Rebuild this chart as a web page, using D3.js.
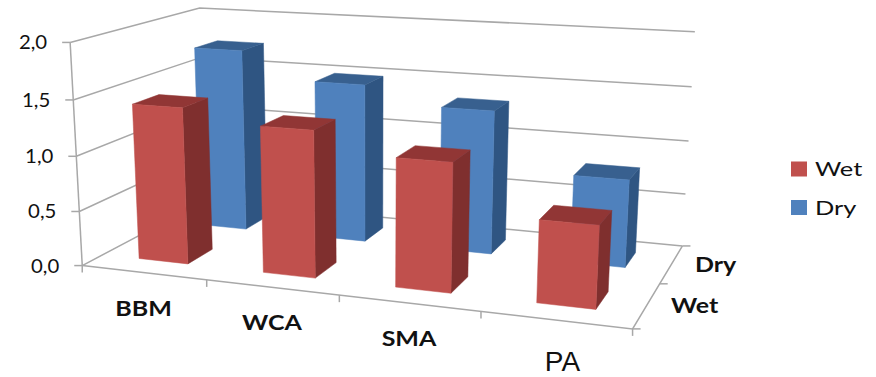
<!DOCTYPE html>
<html>
<head>
<meta charset="utf-8">
<style>
  html, body { margin: 0; padding: 0; background: #fff; }
  svg { display: block; }
  text { fill: #111; }
</style>
<script src="https://cdn.jsdelivr.net/npm/d3@7/dist/d3.min.js"></script>
</head>
<body>
<svg id="chart" width="876" height="377"></svg>
<script>
// Chart data
const categories = ["BBM", "WCA", "SMA", "PA"];
const seriesNames = ["Wet", "Dry"];
const wetValues = [1.42, 1.31, 1.13, 0.71];
const dryValues = [1.74, 1.49, 1.33, 0.80];
const valueTicks = [0, 0.5, 1, 1.5, 2];

const palette = {
  Wet: { front: "#c0504d", side: "#7f2f2e", top: "#913635" },
  Dry: { front: "#4f81bd", side: "#2f5582", top: "#38608f" }
};
const gridColor = "#a8a8a8";

// Scales for the three chart axes, each normalised to the unit box
const xScale = d3.scaleLinear().domain([0, categories.length]).range([0, 1]);
const yScale = d3.scaleLinear().domain([0, 2]).range([0, 1]);
const zScale = d3.scaleLinear().domain([0, seriesNames.length]).range([0, 1]);

// Camera calibration: where points of the unit box land on the page
const calibration = [
  [[0, 0, 0], [83, 266]], [[0, 1, 0], [69.5, 42]],
  [[0, 0, 1], [205, 200]], [[0, 1, 1], [200, 8]],
  [[1, 0, 1], [682, 246]], [[1, 1, 1], [695, 32]],
  [[1, 0, 0], [632, 327]],
  [[0.25, 0, 0], [206.5, 280]], [[0.5, 0, 0], [339, 296]], [[0.75, 0, 0], [480, 313]],
  [[1, 0, 0.5], [662, 283]],
  [[0, 0.5, 0], [77, 156]], [[1, 0.5, 1], [688, 141.5]]
];

// Least-squares fit of a projective camera (11 unknowns)
function fitCamera(points) {
  const n = 11;
  const A = d3.range(n).map(() => new Array(n + 1).fill(0));
  const addRow = (row, rhs) => {
    for (let i = 0; i < n; i++) {
      for (let j = 0; j < n; j++) A[i][j] += row[i] * row[j];
      A[i][n] += row[i] * rhs;
    }
  };
  points.forEach(([[X, Y, Z], [sx, sy]]) => {
    addRow([X, Y, Z, 1, 0, 0, 0, 0, -sx * X, -sx * Y, -sx * Z], sx);
    addRow([0, 0, 0, 0, X, Y, Z, 1, -sy * X, -sy * Y, -sy * Z], sy);
  });
  for (let c = 0; c < n; c++) {
    let pivot = c;
    for (let r = c + 1; r < n; r++) if (Math.abs(A[r][c]) > Math.abs(A[pivot][c])) pivot = r;
    [A[c], A[pivot]] = [A[pivot], A[c]];
    for (let r = 0; r < n; r++) {
      if (r === c) continue;
      const f = A[r][c] / A[c][c];
      for (let k = c; k <= n; k++) A[r][k] -= f * A[c][k];
    }
  }
  return A.map((row, i) => row[n] / row[i]);
}

const cam = fitCamera(calibration);

// Project chart coordinates (category position, value, depth position) to the page
function project(cat, value, depth) {
  const X = xScale(cat), Y = yScale(value), Z = zScale(depth);
  const w = cam[8] * X + cam[9] * Y + cam[10] * Z + 1;
  return [
    (cam[0] * X + cam[1] * Y + cam[2] * Z + cam[3]) / w,
    (cam[4] * X + cam[5] * Y + cam[6] * Z + cam[7]) / w
  ];
}

const svg = d3.select("#chart");
const line = d3.line();
const catMax = categories.length, depthMax = seriesNames.length;
const decimalComma = d3.formatLocale({ decimal: ",", thousands: ".", grouping: [3], currency: ["", ""] }).format(".1f");

// Walls: value gridlines run along the left wall and then the back wall
const walls = svg.append("g").attr("fill", "none").attr("stroke", gridColor).attr("stroke-width", 1.5);
walls.selectAll("path.grid").data(valueTicks).join("path")
  .attr("class", "grid")
  .attr("d", v => line([project(0, v, 0), project(0, v, depthMax), project(catMax, v, depthMax)]));

// Value axis with outward tick marks
walls.append("path").attr("d", line([project(0, 0, 0), project(0, 2, 0)]));
walls.selectAll("path.vtick").data(valueTicks).join("path")
  .attr("class", "vtick")
  .attr("d", v => { const p = project(0, v, 0); return line([p, [p[0] - 8, p[1]]]); });

// Floor edges and their tick marks
walls.append("path").attr("d", line([project(0, 0, 0), project(catMax, 0, 0), project(catMax, 0, depthMax)]));
walls.selectAll("path.ctick").data(d3.range(catMax + 1)).join("path")
  .attr("class", "ctick")
  .attr("d", i => { const p = project(i, 0, 0); return line([p, [p[0], p[1] + 7]]); });
walls.selectAll("path.dtick").data(d3.range(depthMax + 1)).join("path")
  .attr("class", "dtick")
  .attr("d", i => { const p = project(catMax, 0, i); return line([p, [p[0] + 8, p[1]]]); });

// Bars: 150% gaps in both directions, painted far row first, left to right
const gapShare = 0.3;
const bars = [];
[["Dry", dryValues, 1], ["Wet", wetValues, 0]].forEach(([name, values, row]) => {
  values.forEach((value, i) => bars.push({ name, value, i, row }));
});

const barGroups = svg.append("g").selectAll("g").data(bars).join("g");
barGroups.each(function (d) {
  const x0 = d.i + gapShare, x1 = d.i + 1 - gapShare;
  const z0 = d.row + gapShare, z1 = d.row + 1 - gapShare;
  const faces = [
    { kind: "side", pts: [[x1, 0, z0], [x1, 0, z1], [x1, d.value, z1], [x1, d.value, z0]] },
    { kind: "top", pts: [[x0, d.value, z0], [x1, d.value, z0], [x1, d.value, z1], [x0, d.value, z1]] },
    { kind: "front", pts: [[x0, 0, z0], [x1, 0, z0], [x1, d.value, z0], [x0, d.value, z0]] }
  ];
  d3.select(this).selectAll("path").data(faces).join("path")
    .attr("d", f => line(f.pts.map(p => project(...p))) + "Z")
    .attr("fill", f => palette[d.name][f.kind])
    .attr("stroke", f => palette[d.name][f.kind])
    .attr("stroke-width", 0.5);
});

// Places a label and widens its glyphs horizontally
const placed = (x, y, widen) => `translate(${x},${y}) scale(${widen},1)`;

// Value labels
svg.append("g").selectAll("text").data(valueTicks).join("text")
  .attr("transform", v => { const p = project(0, v, 0); return placed(p[0] - 23, p[1] + 7, 1.1); })
  .attr("text-anchor", "end")
  .attr("font-family", "Lato, sans-serif")
  .attr("font-size", 18.5)
  .text(decimalComma);

// Category labels; the last one is set in a larger plain face
svg.append("g").selectAll("text").data(categories).join("text")
  .attr("transform", (c, i) => {
    const p = project(i + 0.5, 0, 0);
    return c === "PA" ? placed(p[0] + 7, 371, 1) : placed(p[0], p[1] + 43, 1.25);
  })
  .attr("text-anchor", "middle")
  .attr("font-family", c => c === "PA" ? "'Liberation Sans', sans-serif" : "Lato, sans-serif")
  .attr("font-weight", c => c === "PA" ? 400 : 700)
  .attr("font-size", c => c === "PA" ? 28 : 20)
  .text(c => c);

// Depth labels
svg.append("g").selectAll("text").data(seriesNames).join("text")
  .attr("transform", (s, i) => {
    const p = project(catMax, 0, i + 0.5);
    return placed(p[0] + (i ? 44 : 48), p[1] + 8, 1.25);
  })
  .attr("text-anchor", "middle")
  .attr("font-family", "Lato, sans-serif")
  .attr("font-weight", 700)
  .attr("font-size", 20)
  .text(s => s);

// Legend
const legendY = d3.scalePoint().domain(seriesNames).range([169, 207.5]);
const legend = svg.append("g").selectAll("g").data(seriesNames).join("g")
  .attr("transform", s => `translate(791,${legendY(s)})`);
legend.append("rect")
  .attr("y", -7.5).attr("width", 16).attr("height", 15)
  .attr("fill", s => palette[s].front);
legend.append("text")
  .attr("transform", placed(24, 7, 1.27))
  .attr("font-family", "Lato, sans-serif")
  .attr("font-size", 20)
  .text(s => s);
</script>
</body>
</html>
